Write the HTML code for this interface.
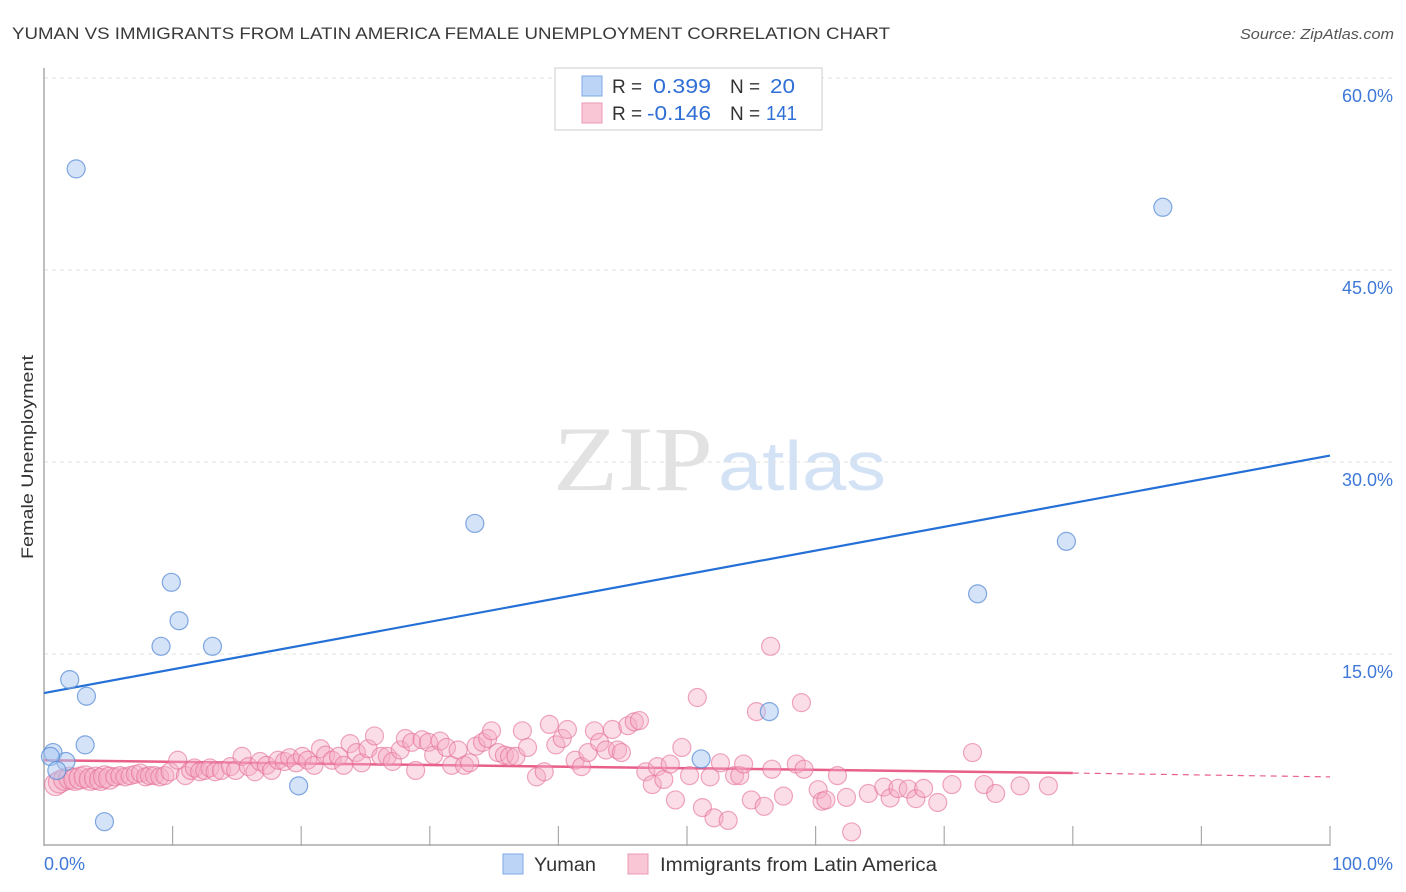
<!DOCTYPE html>
<html><head><meta charset="utf-8"><style>
body{margin:0;background:#fff;font-family:"Liberation Sans",sans-serif;}
#wrap{position:relative;width:1406px;height:892px;overflow:hidden;}
</style></head><body>
<div id="wrap">
<svg id="svg" width="1406" height="892" xmlns="http://www.w3.org/2000/svg">
<text x="12" y="39" font-size="17" fill="#3a3a3a" textLength="878" lengthAdjust="spacingAndGlyphs">YUMAN VS IMMIGRANTS FROM LATIN AMERICA FEMALE UNEMPLOYMENT CORRELATION CHART</text>
<text x="1240" y="39" font-size="15" fill="#555" font-style="italic" textLength="154" lengthAdjust="spacingAndGlyphs">Source: ZipAtlas.com</text>
<text transform="translate(33,457) rotate(-90)" font-size="17" fill="#333" text-anchor="middle" textLength="204" lengthAdjust="spacingAndGlyphs">Female Unemployment</text>
<g>
<text x="553" y="490" font-size="92" font-family="Liberation Serif,serif" fill="#e2e2e2" textLength="160" lengthAdjust="spacingAndGlyphs">ZIP</text>
<text x="718" y="490" font-size="70" fill="#d4e2f5" textLength="168" lengthAdjust="spacingAndGlyphs">atlas</text>
</g>
<g id="grid"></g><g id="axes"></g><g id="lines"></g><g id="pts"></g>
<g>
<rect x="555" y="68" width="267" height="62" fill="#fff" stroke="#ccc"/>
<rect x="582" y="76" width="20" height="20" fill="#bcd4f5" stroke="#7fa8e3"/>
<rect x="582" y="103" width="20" height="20" fill="#f9c6d5" stroke="#ec9ab4"/>
<text x="612" y="93" font-size="19" fill="#333">R =</text>
<text x="653" y="93" font-size="20" fill="#2f6fd6" textLength="58" lengthAdjust="spacingAndGlyphs">0.399</text>
<text x="730" y="93" font-size="19" fill="#333">N =</text>
<text x="770" y="93" font-size="20" fill="#2f6fd6" textLength="25" lengthAdjust="spacingAndGlyphs">20</text>
<text x="612" y="120" font-size="19" fill="#333">R =</text>
<text x="647" y="120" font-size="20" fill="#2f6fd6" textLength="64" lengthAdjust="spacingAndGlyphs">-0.146</text>
<text x="730" y="120" font-size="19" fill="#333">N =</text>
<text x="766" y="120" font-size="20" fill="#2f6fd6" textLength="31" lengthAdjust="spacingAndGlyphs">141</text>
</g>
<g>
<rect x="503" y="854" width="20" height="20" fill="#bcd4f5" stroke="#7fa8e3"/>
<text x="534" y="871" font-size="19" fill="#333" textLength="62" lengthAdjust="spacingAndGlyphs">Yuman</text>
<rect x="628" y="854" width="20" height="20" fill="#f9c6d5" stroke="#ec9ab4"/>
<text x="660" y="871" font-size="19" fill="#333" textLength="277" lengthAdjust="spacingAndGlyphs">Immigrants from Latin America</text>
</g>
</svg></div>
<script>
const yTicks=[15,30,45,60];
const yTickLabels=["15.0%","30.0%","45.0%","60.0%"];
const xLabels=["0.0%","100.0%"];
const blueX=[2.5,87.0,33.5,79.5,9.9,72.6,10.5,9.1,13.1,2.0,3.3,56.4,3.2,0.7,1.7,51.1,19.8,4.7,0.5,1.0];
const blueY=[52.9,49.9,25.2,23.8,20.6,19.7,17.6,15.6,15.6,13.0,11.7,10.5,7.9,7.3,6.6,6.8,4.7,1.9,7.0,5.9];
const pinkX=[0.9,1.2,1.6,2.0,2.4,2.8,3.2,3.6,4.0,4.4,4.7,5.1,5.5,5.9,6.3,6.7,7.1,7.5,7.9,8.2,8.6,9.0,9.4,9.8,10.4,11.0,11.4,11.7,12.1,12.5,12.9,13.3,13.8,14.5,14.9,15.4,15.9,16.4,16.8,17.3,17.7,18.2,18.7,19.1,19.6,20.1,20.5,21.0,21.5,21.9,22.4,22.9,23.3,23.8,24.3,24.7,25.2,25.7,26.2,26.7,27.1,27.7,28.1,28.6,28.9,29.4,29.9,30.3,30.8,31.3,31.7,32.2,32.7,33.1,33.6,34.1,34.5,34.8,35.3,35.8,36.2,36.7,37.2,37.6,38.3,38.9,39.3,39.8,40.3,40.7,41.3,41.8,42.3,42.8,43.2,43.7,44.2,44.6,44.9,45.4,45.9,46.3,46.8,47.3,47.7,48.2,48.7,49.1,49.6,50.2,50.8,51.2,51.8,52.1,52.6,53.2,53.7,54.1,54.4,55.0,55.4,56.0,56.5,56.6,57.5,58.5,58.9,59.1,60.2,60.5,60.8,61.7,62.4,62.8,64.1,65.3,65.8,66.4,67.2,67.8,68.4,69.5,70.6,72.2,73.1,74.0,75.9,78.1];
const pinkY=[4.8,5.0,5.2,5.3,5.2,5.3,5.4,5.2,5.3,5.2,5.4,5.3,5.4,5.5,5.4,5.5,5.6,5.7,5.4,5.5,5.5,5.4,5.5,5.8,6.7,5.5,5.9,6.1,5.8,5.9,6.1,5.8,5.9,6.2,5.9,7.0,6.2,5.8,6.6,6.3,5.9,6.7,6.6,6.9,6.5,7.0,6.7,6.3,7.6,7.1,6.7,7.0,6.3,8.0,7.3,6.5,7.6,8.6,7.0,7.0,6.6,7.5,8.4,8.1,5.9,8.3,8.1,7.1,8.2,7.7,6.3,7.5,6.3,6.5,7.8,8.1,8.4,9.0,7.3,7.1,7.0,7.0,9.0,7.7,5.4,5.8,9.5,7.9,8.4,9.1,6.7,6.2,7.3,9.0,8.1,7.5,9.1,7.5,7.3,9.4,9.7,9.8,5.8,4.8,6.2,5.2,6.4,3.6,7.7,5.5,11.6,3.0,5.4,2.2,6.5,2.0,5.5,5.5,6.4,3.6,10.5,3.1,15.6,6.0,3.9,6.4,11.2,6.0,4.4,3.5,3.6,5.5,3.8,1.1,4.1,4.6,3.75,4.5,4.45,3.7,4.5,3.4,4.8,7.3,4.8,4.1,4.7,4.7];
const blueLine=[11.95,30.5];
const pinkLine=[6.7,5.7,5.4];
const X0=44,X1=1330,Y0=846,PPY=12.8;
const sx=v=>X0+(X1-X0)*v/100, sy=v=>Y0-v*PPY;
const NS="http://www.w3.org/2000/svg";
function mk(t,a,p){const e=document.createElementNS(NS,t);for(const k in a)e.setAttribute(k,a[k]);document.getElementById(p).appendChild(e);return e;}
yTicks.forEach((t,i)=>{
 const g=mk('line',{x1:X0,x2:1392,y1:sy(t),y2:sy(t),stroke:'#e2e2e2','stroke-dasharray':'4,4'},'grid');
 
 
 const l=mk('text',{x:1393,y:sy(t)+24,'font-size':18,fill:'#3f78d8','text-anchor':'end'},'axes');
 l.textContent=yTickLabels[i];
 
 
});
const ax=mk('line',{x1:X0,x2:X0,y1:68,y2:Y0,stroke:'#aaa','stroke-width':1.5},'axes');


const bx=mk('line',{x1:X0,x2:X1,y1:Y0-1,y2:Y0-1,stroke:'#aaa','stroke-width':1.5},'axes');


for(let i=1;i<=10;i++){const t=mk('line',{x1:sx(i*10),x2:sx(i*10),y1:826,y2:Y0,stroke:'#aaa','stroke-width':1.2},'axes');
 
 }
const xl0=mk('text',{x:44,y:870,'font-size':18,fill:'#3f78d8'},'axes');xl0.textContent=xLabels[0];


const xl1=mk('text',{x:1393,y:870,'font-size':18,fill:'#3f78d8','text-anchor':'end'},'axes');xl1.textContent=xLabels[1];


pinkX.forEach((x,i)=>{const c=mk('circle',{cx:sx(x),cy:sy(pinkY[i]),r:i<12?11:9,fill:'rgba(246,170,195,0.4)',stroke:'rgba(228,110,150,0.6)','stroke-width':1.2},'pts');
 
 });
blueX.forEach((x,i)=>{const c=mk('circle',{cx:sx(x),cy:sy(blueY[i]),r:9,fill:'rgba(170,200,242,0.5)',stroke:'rgba(90,140,215,0.75)','stroke-width':1.2},'pts');
 
 });
const bl=mk('line',{x1:sx(0),y1:sy(blueLine[0]),x2:sx(100),y2:sy(blueLine[1]),stroke:'#2470d6','stroke-width':2.2},'lines');


const pl=mk('line',{x1:sx(0),y1:sy(pinkLine[0]),x2:sx(80),y2:sy(pinkLine[1]),stroke:'#e8608a','stroke-width':2.5},'lines');


const pd=mk('line',{x1:sx(80),y1:sy(pinkLine[1]),x2:sx(100),y2:sy(pinkLine[2]),stroke:'#e8608a','stroke-width':1.2,'stroke-dasharray':'6,5'},'lines');


</script>
</body></html>
